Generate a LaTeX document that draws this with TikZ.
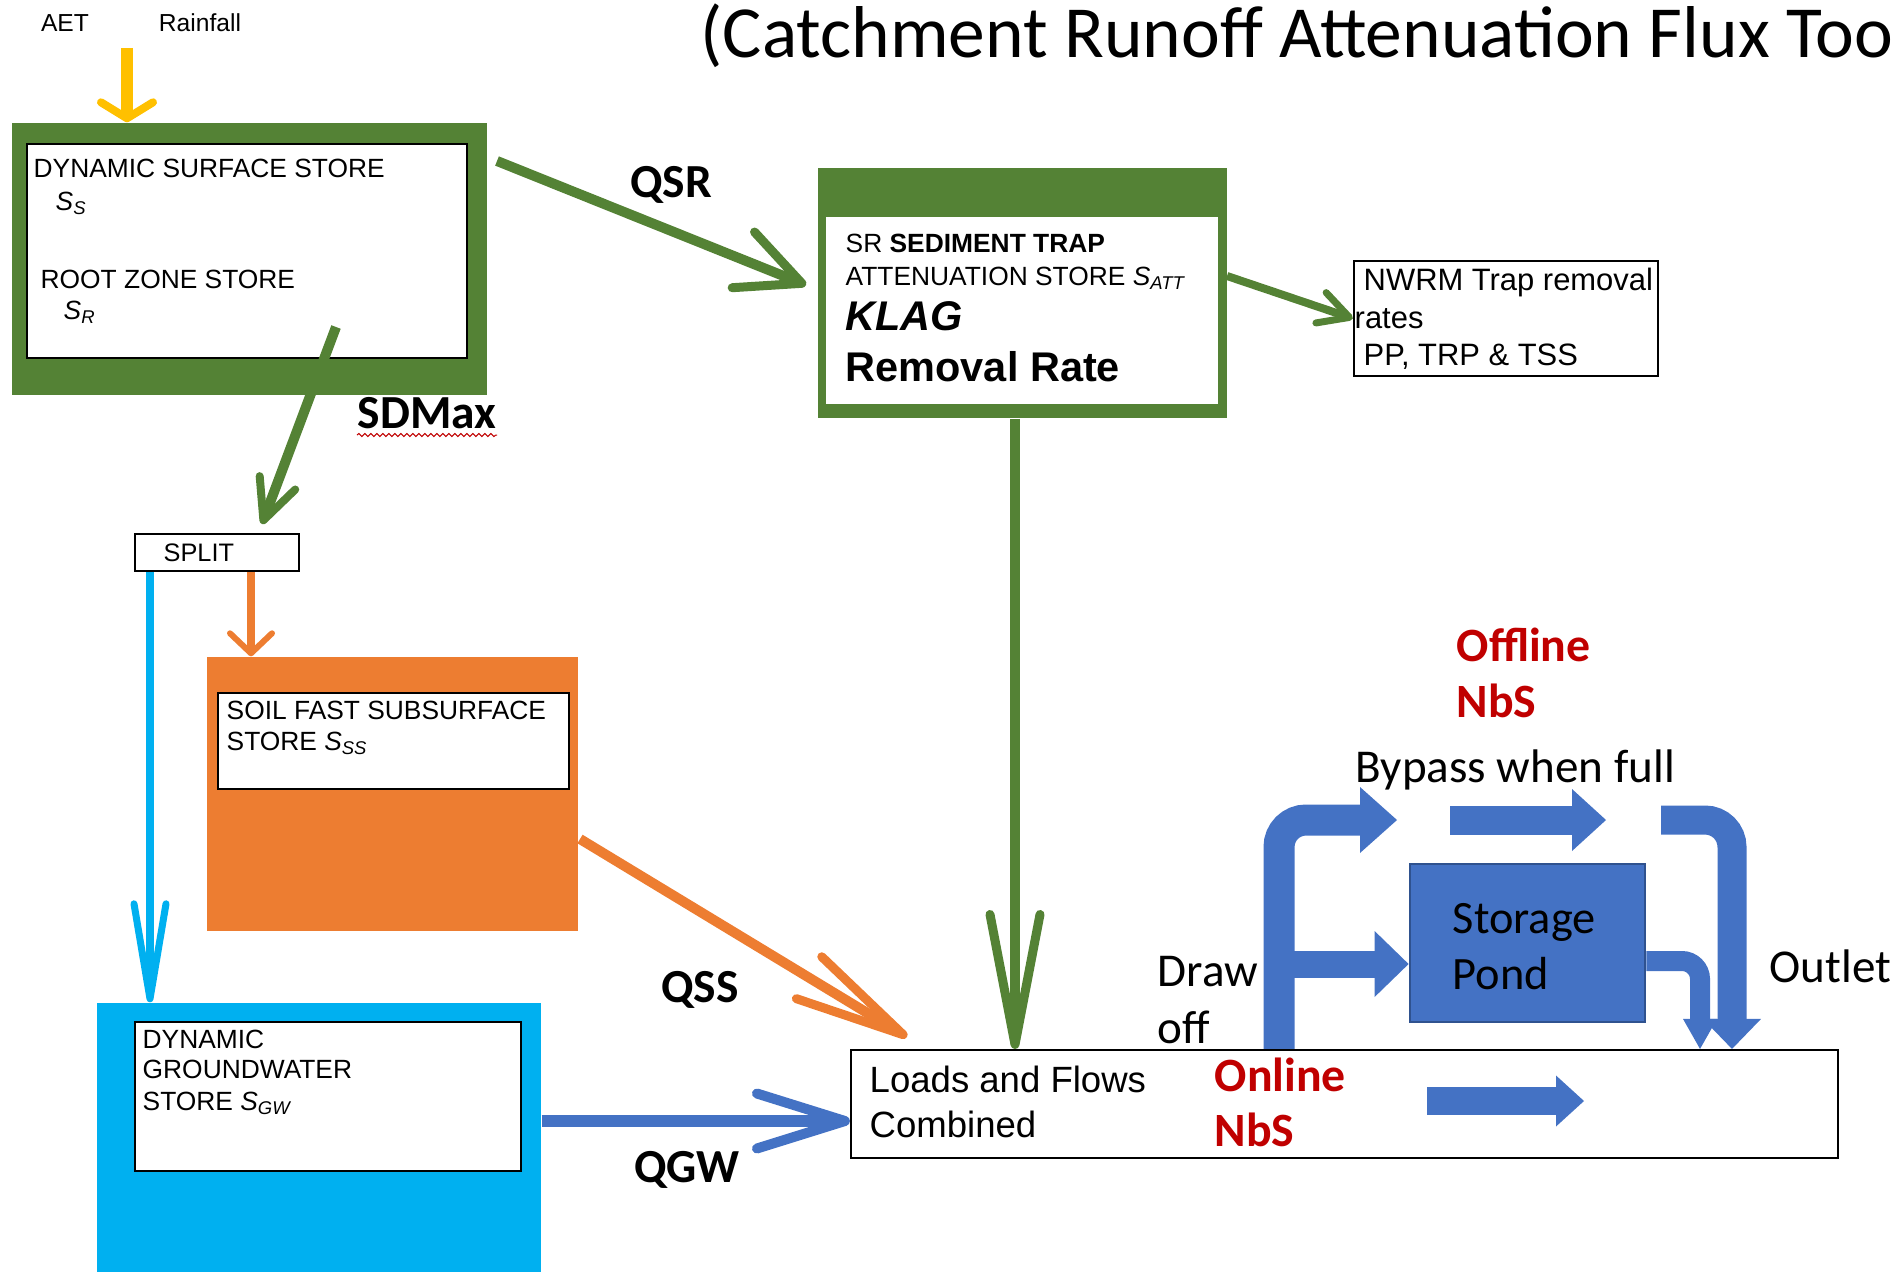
\documentclass[tikz,border=0pt]{standalone}
\usepackage{fontspec}
\setmainfont{Liberation Sans}
\newfontfamily\calibri{Carlito}
\usetikzlibrary{arrows.meta}
\usetikzlibrary{fit}
\usetikzlibrary{decorations.pathmorphing}

\definecolor{leaf}{HTML}{548235}
\definecolor{soilor}{HTML}{ED7D31}
\definecolor{aqua}{HTML}{00B0F0}
\definecolor{pondblue}{HTML}{4472C4}
\definecolor{pondedge}{HTML}{2F528F}
\definecolor{sun}{HTML}{FFC000}
\definecolor{nbsred}{HTML}{C00000}

\newcommand\ptsz[1]{\fontsize{#1}{#1}\selectfont}

\tikzset{
  storebox/.style={fill=#1, inner sep=0pt},
  whitebox/.style={draw=black, line width=0.7pt, fill=white, inner sep=0pt},
  txt/.style={anchor=base west, inner sep=0pt, font={\ptsz{7.5}}},
  qlab/.style={anchor=base, inner sep=0pt, font={\calibri\bfseries\ptsz{13.5}}},
  callab/.style={anchor=base west, inner sep=0pt, font={\calibri\ptsz{13.4}}},
  nbs/.style={anchor=base west, inner sep=0pt, text=nbsred, font={\calibri\bfseries\ptsz{13.6}}},
  blockflow/.style={pondblue, line width=#1}
}

\begin{document}
\begin{tikzpicture}[x=0.1mm,y=-0.1mm]
\useasboundingbox (0,0) rectangle (1901,1272);
\clip (0,0) rectangle (1901,1272);

% stores
\node[storebox=leaf, fit={(12,123) (487,395)}] (surf) {};
\node[whitebox, fit={(27,144) (467,358)}] (surfin) {};
\node[whitebox, line width=0.6pt, fit={(135,534) (299,571)}] (split) {};
\node[storebox=soilor, fit={(207,657) (578,931)}] (soil) {};
\node[whitebox, fit={(218,693) (569,789)}] (soilin) {};
\node[storebox=aqua, fit={(97,1003) (541,1272)}] (gw) {};
\node[whitebox, fit={(135,1022) (521,1171)}] (gwin) {};
\node[storebox=leaf, fit={(818,168) (1227,418)}] (trap) {};
\node[fill=white, inner sep=0pt, fit={(826,217) (1218,404)}] (trapin) {};
\node[draw=black, line width=0.7pt, inner sep=0pt, fit={(1354,261) (1658,376)}] (nwrm) {};
\node[draw=black, line width=0.6pt, inner sep=0pt, fit={(851,1050) (1838,1158)}] (loads) {};
\node[fill=pondblue, draw=pondedge, line width=0.8pt, inner sep=0pt, fit={(1410,864) (1645,1022)}] (pond) {};

% texts in the stores
\node[anchor=base west, inner sep=0pt, font={\calibri\ptsz{20.9}}] (title) at (700,58) {(Catchment Runoff Attenuation Flux Too};
\node[txt, anchor=base, font={\ptsz{7}}] (aet) at (65,32) {AET};
\node[txt, anchor=base, font={\ptsz{7}}] (rain) at (200,32) {Rainfall};
\node[txt] (dss) at (33,178) {DYNAMIC SURFACE STORE};
\node[txt] (ss) at (55,210) {\textit{S}\textsubscript{\textit{S}}};
\node[txt] (rzs) at (40,288) {ROOT ZONE STORE};
\node[txt] (sr) at (63,319) {\textit{S}\textsubscript{\textit{R}}};
\node[txt, font={\ptsz{7.2}}] (splitt) at (163,561) {SPLIT};
\node[txt] (sfs1) at (226,719) {SOIL FAST SUBSURFACE};
\node[txt] (sfs2) at (226,750) {STORE \textit{S}\textsubscript{\textit{SS}}};
\node[txt] (dgw1) at (142,1048) {DYNAMIC};
\node[txt] (dgw2) at (142,1078) {GROUNDWATER};
\node[txt] (dgw3) at (142,1110) {STORE \textit{S}\textsubscript{\textit{GW}}};
\node[txt] (sed1) at (845,253) {SR \textbf{SEDIMENT TRAP}};
\node[txt] (sed2) at (845,285) {ATTENUATION STORE \textit{S}\textsubscript{\textit{ATT}}};
\node[txt, font={\ptsz{11.8}\bfseries\itshape}] (klag) at (845,330) {KLAG};
\node[txt, font={\ptsz{11.8}\bfseries}] (remrate) at (845,381) {Removal Rate};
\node[txt, font={\ptsz{8.8}}] (nw1) at (1363,290) {NWRM Trap removal};
\node[txt, font={\ptsz{8.8}}] (nw2) at (1354,328) {rates};
\node[txt, font={\ptsz{8.8}}] (nw3) at (1363,365) {PP, TRP \& TSS};
\node[txt, font={\ptsz{10.4}}] (lf1) at (869,1092) {Loads and Flows};
\node[txt, font={\ptsz{10.4}}] (lf2) at (869,1137) {Combined};

% flows between stores
\coordinate (rainin) at (127,48);
\coordinate (sdtop) at (336,327);
\coordinate (sdend) at (262,524);
\coordinate (gwx) at (150,0);
\coordinate (soilx) at (251,0);
\coordinate (qsrfrom) at (497,161);
\coordinate (qsrto) at (806,285);
\coordinate (nwfrom) at (1227,276);
\coordinate (trapx) at (1015,0);
\coordinate (qssfrom) at (580,839);
\coordinate (qssto) at (907,1037);
\coordinate (qgwy) at (0,1121);

\draw[sun, line width=1.2mm, -{Straight Barb[round,length=1.6mm,width=5.2mm,line width=0.8mm]}] (rainin) -- (rainin |- surf.north);
\draw[leaf, line width=1mm, -{Straight Barb[round,length=4mm,width=3.8mm,line width=0.8mm]}] (sdtop) -- (sdend);
\draw[aqua, line width=0.8mm, -{Straight Barb[round,length=9.5mm,width=3.2mm,line width=0.7mm]}] (split.south -| gwx) -- (gw.north -| gwx);
\draw[soilor, line width=0.8mm, -{Straight Barb[round,length=2mm,width=4.2mm,line width=0.6mm]}] (split.south -| soilx) -- (soil.north -| soilx);
\draw[leaf, line width=1mm, -{Straight Barb[round,length=6.3mm,width=6mm,line width=0.9mm]}] (qsrfrom) -- (qsrto);
\draw[leaf, line width=0.8mm, -{Straight Barb[round,length=3mm,width=3.2mm,line width=0.7mm]}] (nwfrom) -- (nwrm.west);
\draw[leaf, line width=1mm, -{Straight Barb[round,length=13mm,width=5mm,line width=0.9mm]}] (trap.south -| trapx) -- (loads.north -| trapx);
\draw[soilor, line width=1mm, -{Straight Barb[round,length=11mm,width=4.9mm,line width=0.9mm]}] (qssfrom) -- (qssto);
\draw[pondblue, line width=1.2mm, -{Straight Barb[round,length=8.8mm,width=5.5mm,line width=1mm]}] (gw.east |- qgwy) -- (loads.west |- qgwy);

\node[qlab] (qsr) at (671,197) {QSR};
\node[qlab] (sdmax) at (427,428) {SDMax};
\draw[nbsred, line width=0.3pt, decorate, decoration={snake,amplitude=0.15mm,segment length=0.6mm}] ([yshift=-0.6mm]sdmax.south west) -- ([yshift=-0.6mm]sdmax.south east);
\node[qlab] (qss) at (700,1002) {QSS};
\node[qlab] (qgw) at (687,1182) {QGW};

% NbS flows
\coordinate (dox) at (1279,0);
\coordinate (dotip) at (1397,820);
\coordinate (inlet) at (1290,964);
\coordinate (bypfrom) at (1450,820);
\coordinate (byptip) at (1606,820);
\coordinate (outfrom) at (1661,820);
\coordinate (outx) at (1732,0);
\coordinate (pondouty) at (0,961);
\coordinate (pox) at (1700,0);
\coordinate (onfrom) at (1427,1101);
\coordinate (ontip) at (1584,1101);

\draw[blockflow=3.1mm, rounded corners=2.7mm, -{Triangle[length=3.7mm,width=6.6mm,line width=0pt]}] (loads.north -| dox) |- (dotip);
\draw[blockflow=2.7mm, -{Triangle[length=3.4mm,width=6.6mm,line width=0pt]}] (inlet) -- (pond.west |- inlet);
\draw[blockflow=2.9mm, -{Triangle[length=3.4mm,width=6.2mm,line width=0pt]}] (bypfrom) -- (byptip);
\draw[blockflow=2.9mm, rounded corners=2.7mm, -{Triangle[length=3mm,width=5.8mm,line width=0pt]}] (outfrom) -| (loads.north -| outx);
\draw[blockflow=2mm, rounded corners=1.8mm, -{Triangle[length=3mm,width=3.4mm,line width=0pt]}] (pond.east |- pondouty) -| (loads.north -| pox);
\draw[blockflow=2.8mm, -{Triangle[length=2.8mm,width=5.1mm,line width=0pt]}] (onfrom) -- (ontip);

\node[callab, font={\calibri\ptsz{13.2}}] (stor) at (1452,933) {Storage};
\node[callab, font={\calibri\ptsz{13.2}}] (pondt) at (1452,989) {Pond};
\node[callab] (bypass) at (1355,782) {Bypass when full};
\node[callab] (draw1) at (1157,986) {Draw};
\node[callab] (draw2) at (1157,1043) {off};
\node[callab] (outlet) at (1769,982) {Outlet};
\node[nbs] (off1) at (1456,661) {Offline};
\node[nbs] (off2) at (1456,717) {NbS};
\node[nbs] (on1) at (1214,1091) {Online};
\node[nbs] (on2) at (1214,1146) {NbS};
\end{tikzpicture}
\end{document}
